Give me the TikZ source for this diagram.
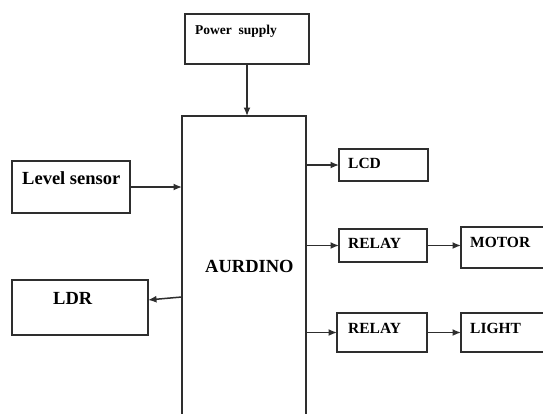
\documentclass[tikz,border=0pt]{standalone}
\usepackage{fontspec}
\setmainfont{Liberation Serif}
\usetikzlibrary{arrows.meta}
\definecolor{boxline}{HTML}{2E2E2E}

\begin{document}
\begin{tikzpicture}[
  x=1pt, y=-1pt,
  arr/.style={-{Latex[length=8.5pt,width=7pt]}, draw=boxline, fill=boxline, line width=1.5pt},
  blk/.style={draw=boxline, line width=1.5pt, fill=white, anchor=north west,
              outer sep=0pt, inner sep=0pt, minimum width=#1},
  txt/.style={anchor=base west, inner sep=0pt, font=\bfseries\fontsize{#1}{#1}\selectfont},
]

\clip (0,0) rectangle (543,413);
\fill[white] (0,0) rectangle (543,413);

%% ===== CENTRE: POWER SUPPLY AND BOARD =====

\node[blk=124pt, minimum height=50pt] (pwr) at (185,14) {};
\node[txt=13.5pt] (pwrtxt) at ([shift={(10,20)}]pwr.north west) {Power\ \ supply};

\node[blk=124pt, minimum height=324pt] (ard) at (182,116) {};
\node[txt=18.5pt] (ardtxt) at ([shift={(23,156)}]ard.north west) {AURDINO};

%% ===== LEFT: SENSORS =====

\node[blk=118pt, minimum height=52pt] (lvl) at (12,161) {};
\node[txt=18.5pt] (lvltxt) at ([shift={(10,23)}]lvl.north west) {Level sensor};

\node[blk=136pt, minimum height=55pt] (ldr) at (12,280) {};
\node[txt=18.5pt] (ldrtxt) at ([shift={(41,24)}]ldr.north west) {LDR};

%% ===== RIGHT: OUTPUTS =====

\node[blk=89pt, minimum height=32pt] (lcd) at (339,149) {};
\node[txt=15.5pt] (lcdtxt) at ([shift={(9,19)}]lcd.north west) {LCD};

\node[blk=88pt, minimum height=33pt] (rlyA) at (339,229) {};
\node[txt=15.5pt] (rlyAtxt) at ([shift={(9,19)}]rlyA.north west) {RELAY};

\node[blk=99pt, minimum height=41pt] (mot) at (461,227) {};
\node[txt=15.5pt] (mottxt) at ([shift={(9,20)}]mot.north west) {MOTOR};

\node[blk=90pt, minimum height=39pt] (rlyB) at (337,313) {};
\node[txt=15.5pt] (rlyBtxt) at ([shift={(11,20)}]rlyB.north west) {RELAY};

\node[blk=99pt, minimum height=39pt] (lgt) at (461,313) {};
\node[txt=15.5pt] (lgttxt) at ([shift={(9,20)}]lgt.north west) {LIGHT};

%% ===== ARROWS =====

\draw[arr] (pwr.south) -- (pwr.south |- ard.north);
\draw[arr] (lvl.east) -- (lvl.east -| ard.west);
\draw[arr] ([yshift=1pt]ldrtxt.center -| ard.west) -- ([yshift=-2pt]ldrtxt.center -| ldr.east);

\draw[arr] (lcd.west -| ard.east) -- (lcd.west);
\draw[arr] (rlyA.west -| ard.east) -- (rlyA.west);
\draw[arr] (rlyB.west -| ard.east) -- (rlyB.west);

\draw[arr] (rlyA.east) -- (rlyA.east -| mot.west);
\draw[arr] (rlyB.east) -- (rlyB.east -| lgt.west);

\end{tikzpicture}
\end{document}
